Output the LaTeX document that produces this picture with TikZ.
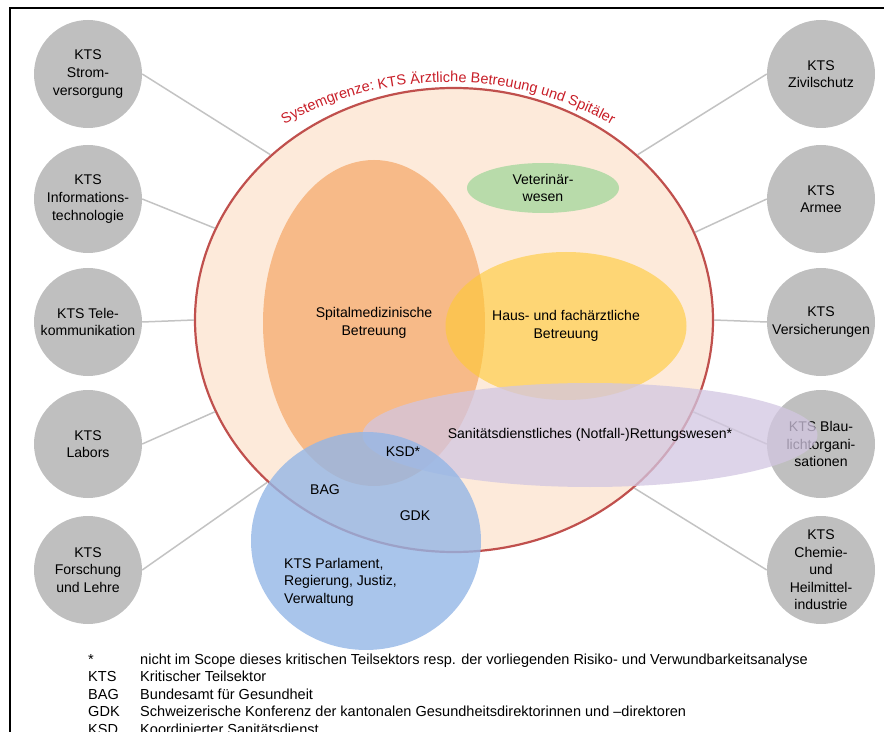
\documentclass[tikz,border=0pt]{standalone}
\usepackage{fontspec}
\setmainfont{Liberation Sans}
\usetikzlibrary{shapes.geometric,decorations.text}

\newcommand{\pxu}{0.03cm}
\definecolor{sysred}{RGB}{192,80,77}
\definecolor{systext}{RGB}{200,30,40}
\definecolor{peach}{RGB}{253,234,218}
\definecolor{ktsgray}{RGB}{191,191,191}
\definecolor{linegray}{RGB}{195,195,195}
\definecolor{spitalorange}{RGB}{247,178,122}
\definecolor{vetgreen}{RGB}{184,219,170}
\definecolor{hausyellow}{RGB}{255,202,50}
\definecolor{rettlila}{RGB}{210,198,225}
\definecolor{parlblue}{RGB}{148,182,230}

\begin{document}
\begin{tikzpicture}[x=0.03cm, y=0.03cm,
    font=\fontsize{12}{15}\selectfont,
    kts/.style={circle, fill=ktsgray, minimum size=108*\pxu, inner sep=0pt, align=center},
    link/.style={draw=linegray, line width=1.5*\pxu},
    field/.style={ellipse, inner sep=0pt, align=center, text opacity=1},
    abbr/.style={anchor=base west, inner sep=0pt, font=\fontsize{12.4}{15}\selectfont}]
    \useasboundingbox (0,0) rectangle (884,-732);
    \draw[line width=2*\pxu] (884,-8) -- (10,-8) -- (10,-732); % frame

    % sub-sectors left
    \node[kts] (strom) at (88,-74) {KTS\\Strom-\\versorgung};
    \node[kts] (info) at (88,-199) {KTS\\Informations-\\technologie};
    \node[kts] (tele) at (88,-322) {KTS Tele-\\kommunikation};
    \node[kts] (labors) at (88,-444) {KTS\\Labors};
    \node[kts] (forschung) at (88,-570) {KTS\\Forschung\\und Lehre};
    % sub-sectors right
    \node[kts] (zivil) at (821,-74) {KTS\\Zivilschutz};
    \node[kts] (armee) at (821,-199) {KTS\\Armee};
    \node[kts] (versich) at (821,-322) {KTS\\Versicherungen};
    \node[kts] (blaulicht) at (821,-444) {KTS Blau-\\lichtorgani-\\sationen};
    \node[kts] (chemie) at (821,-570) {KTS\\Chemie-\\und\\Heilmittel-\\industrie};

    % system boundary
    \node[field, draw=sysred, line width=2.2*\pxu, fill=peach,
        minimum width=518*\pxu, minimum height=464*\pxu] (sys) at (454,-320) {};

    \draw[link] (strom.east) -- (sys.138);
    \draw[link] (info.east) -- (sys.159);
    \draw[link] (tele.east) -- (sys.180);
    \draw[link] (labors.east) -- (sys.201);
    \draw[link] (forschung.east) -- (sys.221);
    \draw[link] (zivil.west) -- (sys.42);
    \draw[link] (armee.west) -- (sys.20);
    \draw[link] (versich.west) -- (sys.0);
    \draw[link] (blaulicht.west) -- (sys.-21);
    \draw[link] (chemie.west) -- (sys.-43);

    % fields
    \node[field, fill=spitalorange, fill opacity=.85, minimum width=222*\pxu, minimum height=326*\pxu]
        (spital) at (374,-323) {Spitalmedizinische\\Betreuung};
    \node[field, fill=vetgreen, minimum width=152*\pxu, minimum height=50*\pxu]
        (vet) at (543,-188) {Veterinär-\\wesen};
    \node[field, fill=hausyellow, fill opacity=.6, minimum width=241*\pxu, minimum height=148*\pxu]
        (haus) at (566,-326) {Haus- und fachärztliche\\Betreuung};
    \node[field, fill=rettlila, fill opacity=.75, minimum width=455*\pxu, minimum height=104*\pxu]
        (rett) at (590,-435) {Sanitätsdienstliches (Notfall-)Rettungswesen*};
    \node[field, fill=parlblue, fill opacity=.8, minimum width=230*\pxu, minimum height=218*\pxu]
        (parl) at (366,-541) {};

    \node (ksd) at (403,-452) {KSD*};
    \node (bag) at (325,-490) {BAG};
    \node (gdk) at (415,-516) {GDK};
    \node[anchor=west, align=left, inner sep=0pt] (parltext) at (284,-582) {KTS Parlament,\\Regierung, Justiz,\\Verwaltung};

    % label on the boundary
    \path[decorate, decoration={text along path, text align=center, text color=systext,
        text={|\fontsize{12.4}{14}\selectfont|Systemgrenze: KTS Ärztliche Betreuung und Spitäler}}]
        (448,-418) ++(125:336) arc[start angle=125, end angle=55, radius=336];

    % legend
    \node[abbr] (a1) at (88,-664) {*};
    \node[abbr] (d1) at (140,-664) {nicht im Scope dieses kritischen Teilsektors resp. der vorliegenden Risiko- und Verwundbarkeitsanalyse};
    \node[abbr] (a2) at (88,-681.5) {KTS};
    \node[abbr] (d2) at (140,-681.5) {Kritischer Teilsektor};
    \node[abbr] (a3) at (88,-699) {BAG};
    \node[abbr] (d3) at (140,-699) {Bundesamt für Gesundheit};
    \node[abbr] (a4) at (88,-716.5) {GDK};
    \node[abbr] (d4) at (140,-716.5) {Schweizerische Konferenz der kantonalen Gesundheitsdirektorinnen und –direktoren};
    \node[abbr] (a5) at (88,-734) {KSD};
    \node[abbr] (d5) at (140,-734) {Koordinierter Sanitätsdienst};
\end{tikzpicture}
\end{document}
